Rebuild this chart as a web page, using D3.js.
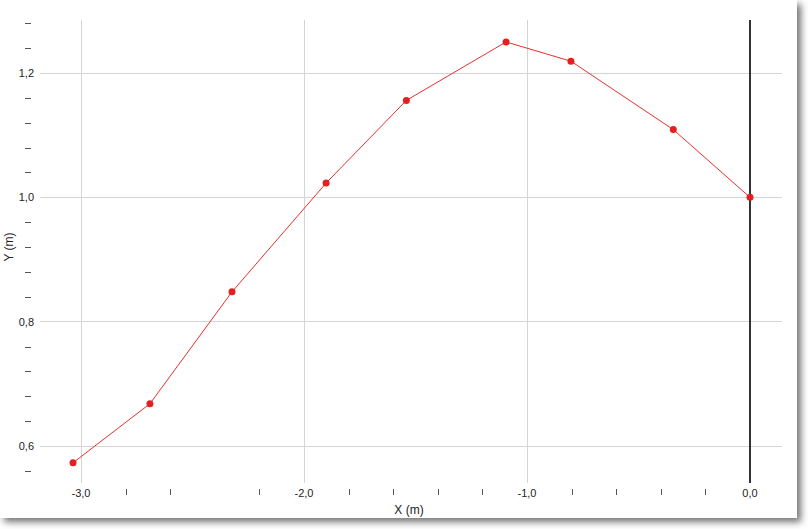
<!DOCTYPE html>
<html><head><meta charset="utf-8">
<script src="https://cdn.jsdelivr.net/npm/d3@7"></script>
<style>
html,body{margin:0;padding:0;background:#fff;}
#panel{position:absolute;left:0;top:0;width:797px;height:518px;background:#fff;box-shadow:4px 4px 7px rgba(0,0,0,0.55);}
svg{position:absolute;left:0;top:0;}
text{font-family:"Liberation Sans",Arial,Helvetica,sans-serif;fill:#222;}
</style></head>
<body><div id="panel"></div><svg id="chart" width="808" height="529"></svg>
<script>
const xValues = [-3.036, -2.691, -2.323, -1.901, -1.541, -1.094, -0.803, -0.344, 0.0];
const yValues = [0.573, 0.668, 0.848, 1.023, 1.156, 1.250, 1.219, 1.109, 1.0];
const xMajorTicks = [-3.0, -2.0, -1.0, 0.0];
const xMinorTicks = [-2.8, -2.6, -2.2, -1.8, -1.6, -1.4, -1.2, -0.8, -0.6, -0.4, -0.2];
const yMajorTicks = [0.6, 0.8, 1.0, 1.2];
const yMinorTicks = [0.56, 0.64, 0.68, 0.72, 0.76, 0.84, 0.88, 0.92, 0.96, 1.04, 1.08, 1.12, 1.16, 1.24, 1.28];
const xTitle = "X (m)", yTitle = "Y (m)";

const svg = d3.select("#chart");
const x = d3.scaleLinear().domain([-3.184, 0.1435]).range([40, 782]);
const y = d3.scaleLinear().domain([0.5405, 1.2853]).range([483, 20]);
const fmt = v => Math.abs(v).toFixed(1).replace(".", ",").replace(/^/, v < 0 ? "-" : "");

// horizontal gridlines
svg.append("g").selectAll("line").data(yMajorTicks).join("line")
  .attr("x1", 40).attr("x2", 782).attr("y1", d => y(d)).attr("y2", d => y(d))
  .attr("stroke", "#d4d4d4").attr("stroke-width", 1).attr("shape-rendering","crispEdges");
// vertical gridlines
svg.append("g").selectAll("line").data(xMajorTicks.filter(d => d !== 0)).join("line")
  .attr("x1", d => x(d)).attr("x2", d => x(d)).attr("y1", 20).attr("y2", 483)
  .attr("stroke", "#d4d4d4").attr("stroke-width", 1).attr("shape-rendering","crispEdges");
// zero axis line
svg.append("line").attr("x1", x(0)).attr("x2", x(0)).attr("y1", 20).attr("y2", 483)
  .attr("stroke", "#333").attr("stroke-width", 2);

// y major labels
svg.append("g").selectAll("text").data(yMajorTicks).join("text")
  .attr("x", 34).attr("y", d => y(d)).attr("dy", "0.35em").attr("text-anchor", "end")
  .attr("font-size", 11).text(fmt);
// y minor ticks
svg.append("g").selectAll("line").data(yMinorTicks).join("line")
  .attr("x1", 25).attr("x2", 31).attr("y1", d => Math.round(y(d)) + 0.5).attr("y2", d => Math.round(y(d)) + 0.5)
  .attr("stroke", "#555").attr("stroke-width", 1);
// x major labels
svg.append("g").selectAll("text").data(xMajorTicks).join("text")
  .attr("x", d => x(d)).attr("y", 497).attr("text-anchor", "middle")
  .attr("font-size", 11).text(fmt);
// x minor ticks
svg.append("g").selectAll("line").data(xMinorTicks).join("line")
  .attr("x1", d => Math.round(x(d)) + 0.5).attr("x2", d => Math.round(x(d)) + 0.5).attr("y1", 489).attr("y2", 495)
  .attr("stroke", "#555").attr("stroke-width", 1);

// axis titles
svg.append("text").attr("x", 409).attr("y", 514).attr("text-anchor", "middle").attr("font-size", 12).text(xTitle);
svg.append("text").attr("transform", "translate(13,247) rotate(-90)").attr("text-anchor", "middle").attr("font-size", 12).text(yTitle);

// data
const pts = xValues.map((v, i) => [v, yValues[i]]);
svg.append("path").datum(pts)
  .attr("d", d3.line().x(d => x(d[0])).y(d => y(d[1])))
  .attr("fill", "none").attr("stroke", "#e8302c").attr("stroke-width", 1);
svg.append("g").selectAll("circle").data(pts).join("circle")
  .attr("cx", d => x(d[0])).attr("cy", d => y(d[1])).attr("r", 3.5).attr("fill", "#e3201f");
</script></body></html>
